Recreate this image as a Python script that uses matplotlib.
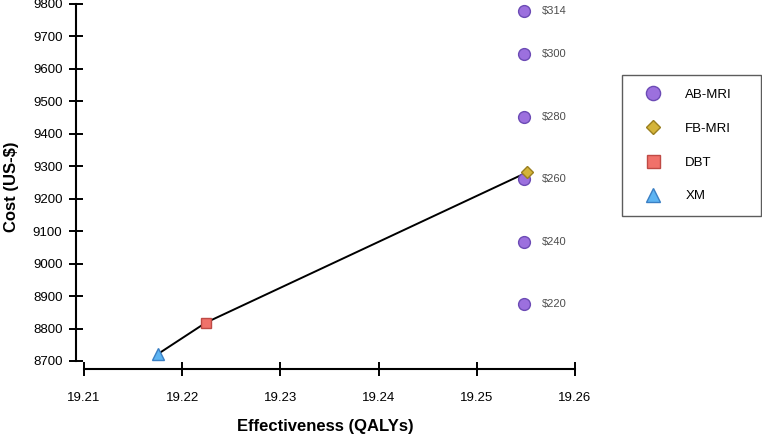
import matplotlib
matplotlib.use("Agg")
import matplotlib.pyplot as plt
import matplotlib.lines as mlines

plt.rcParams["font.family"] = ["Liberation Sans", "DejaVu Sans"]

# AB-MRI at several price points
ab_price = ["$220", "$240", "$260", "$280", "$300", "$314"]
ab_qaly = [19.2548, 19.2548, 19.2548, 19.2548, 19.2548, 19.2548]
ab_cost = [8875, 9067, 9260, 9452, 9645, 9778]

# other strategies (frontier order)
strat_names = ["XM", "DBT", "FB-MRI"]
strat_qaly = [19.2175, 19.2224, 19.2551]
strat_cost = [8721, 8818, 9281]

x_ticks = [19.21, 19.22, 19.23, 19.24, 19.25, 19.26]
y_ticks = [8700, 8800, 8900, 9000, 9100, 9200, 9300, 9400, 9500, 9600, 9700, 9800]

styles = {
    "AB-MRI": dict(marker="o", color="#9c70de", edge="#6c4bb5", ms=8.5),
    "FB-MRI": dict(marker="D", color="#d4b43a", edge="#9a7f1f", ms=6.2),
    "DBT": dict(marker="s", color="#f0716a", edge="#bf4a45", ms=7.8),
    "XM": dict(marker="^", color="#5db4f2", edge="#3a7fc4", ms=8.5),
}

W, H = 762, 437
fig = plt.figure(figsize=(W / 100, H / 100), dpi=100)
# axes frame: left spine at px 76, bottom spine at px 369
ax = fig.add_axes([76 / W, 1 - 369 / H, (575 - 76) / W, (369 - 4) / H])
px_x = 0.01 / 98.2
px_y = 100 / 32.45
ax.set_xlim(19.21 - 8 * px_x, 19.26)
ax.set_ylim(8700 - 8 * px_y, 9800)

ax.plot(strat_qaly, strat_cost, color="black", lw=1.4, zorder=2)

st = styles["AB-MRI"]
ax.plot(ab_qaly, ab_cost, linestyle="None", marker=st["marker"], ms=st["ms"],
        mfc=st["color"], mec=st["edge"], mew=1.0, zorder=3, clip_on=False)
for q, c, p in zip(ab_qaly, ab_cost, ab_price):
    ax.annotate(p, (q, c), xytext=(13, 0), textcoords="offset points",
                ha="left", va="center", fontsize=8, color="#4d4d4d")

for n, q, c in zip(strat_names, strat_qaly, strat_cost):
    st = styles[n]
    ax.plot([q], [c], linestyle="None", marker=st["marker"], ms=st["ms"],
            mfc=st["color"], mec=st["edge"], mew=1.0, zorder=4, clip_on=False)

for s in ["top", "right"]:
    ax.spines[s].set_visible(False)
ax.spines["left"].set_bounds(8700, 9800)
ax.spines["bottom"].set_bounds(19.21, 19.26)
for s in ["left", "bottom"]:
    ax.spines[s].set_linewidth(1.5)

ax.set_xticks(x_ticks)
ax.set_xticklabels([f"{v:.2f}" for v in x_ticks])
ax.set_yticks(y_ticks)
ax.tick_params(axis="both", direction="inout", length=9.5, width=1.4, labelsize=9.5)
ax.tick_params(axis="x", pad=11.5)
ax.tick_params(axis="y", pad=5)

ax.set_xlabel("Effectiveness (QALYs)", fontsize=12, fontweight="bold", labelpad=11)
ax.set_ylabel("Cost (US-$)", fontsize=12, fontweight="bold", labelpad=10)

handles = []
for n in ["AB-MRI", "FB-MRI", "DBT", "XM"]:
    st = styles[n]
    ms = st["ms"] * 1.2
    handles.append(mlines.Line2D([], [], linestyle="None", marker=st["marker"], ms=ms,
                                 mfc=st["color"], mec=st["edge"], mew=1.0, label=n))
leg = fig.legend(handles=handles, loc="upper left",
                 bbox_to_anchor=(622 / W, 1 - 218 / H, 139 / W, 143 / H), mode="expand",
                 frameon=True, fancybox=False, edgecolor="#333333", fontsize=9.5,
                 borderpad=1.05, labelspacing=1.63, handletextpad=1.15, borderaxespad=0,
                 handlelength=2.6)
leg.get_frame().set_linewidth(1.0)

fig.savefig("out.png", dpi=100)
